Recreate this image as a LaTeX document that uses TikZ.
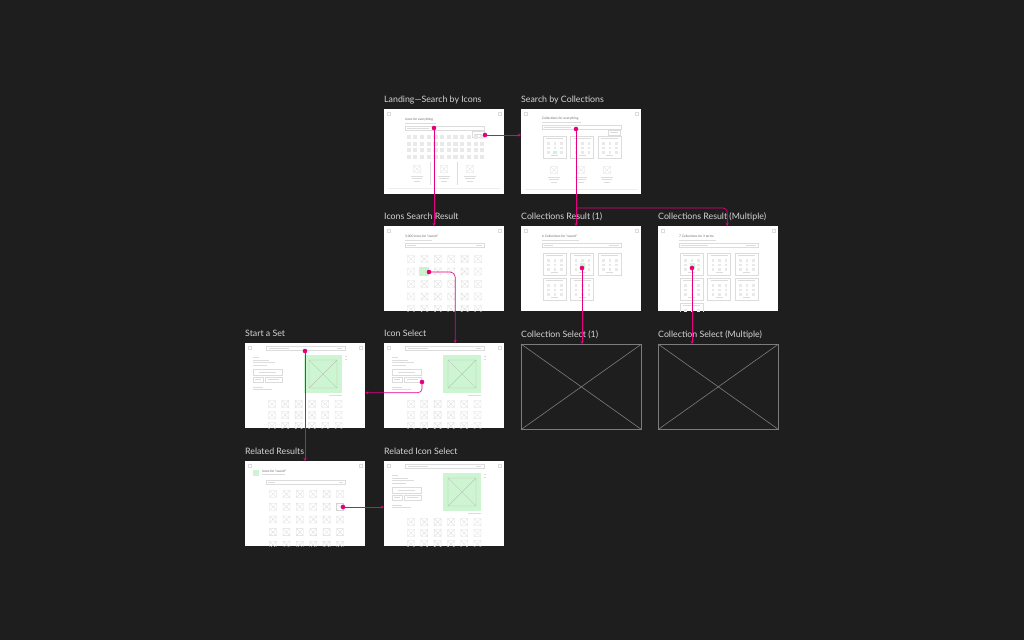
\documentclass[tikz,border=0pt]{standalone}
\usepackage{fontspec}
\setmainfont{Lato}
\usetikzlibrary{positioning,arrows.meta}

\definecolor{canvas}{HTML}{1E1E1E}
\definecolor{lbl}{HTML}{D4D4D4}
\definecolor{hot}{HTML}{E6007E}
\definecolor{rule}{HTML}{DCDCDC}
\definecolor{chip}{HTML}{E9E9E9}
\definecolor{ink}{HTML}{666666}
\definecolor{mint}{HTML}{CDF5D2}
\definecolor{stub}{HTML}{7C7C7C}

\tikzset{
  screen/.style={fill=white, inner sep=0, minimum width=120pt, minimum height=85pt, anchor=north west},
  blank/.style={draw=stub, line width=0.6pt, inner sep=0, minimum width=120pt, minimum height=85pt, anchor=north west},
  caption/.style={text=lbl, font=\fontsize{8.8}{10}\selectfont, anchor=base west, inner sep=0},
  tiny/.style={text=ink, font=\fontsize{3.2}{4}\selectfont, anchor=base west, inner sep=0},
  wire/.style={draw=rule, line width=0.3pt},
  box/.style={draw=gray!55, line width=0.35pt},
  link/.style={draw=hot, line width=0.6pt, -{Stealth[length=3pt,width=3pt]}},
  xbox/.pic={\draw[wire] (-3.5,-3.5) rectangle (3.5,3.5) (-3.5,-3.5) -- (3.5,3.5) (-3.5,3.5) -- (3.5,-3.5);},
  card/.pic={
    \draw[wire] (0,0) rectangle (23,22);
    \draw[wire] (3,2.5) -- (20,2.5) (8,19.5) -- (15,19.5);
    \foreach \c in {0,1,2} \foreach \r in {0,1,2}
      \fill[chip] ({4+\c*6.5},{6+\r*4.5}) rectangle +(2.8,2.8);
  }
}

% corner icons of a screen
\newcommand\chrome{%
  \draw[wire] (3,3) rectangle +(3,3) (114,3) rectangle +(3,3);
}
% icon detail layout (used three times)
\newcommand\detailview{%
  \draw[wire] (21,3) rectangle (100,7.5);
  \draw[wire] (24,5.2) -- (44,5.2) (92,5.2) -- (97,5.2);
  \draw[wire] (8,14) -- (14,14) (8,17) -- (24,17) (8,19.5) -- (30,19.5) (8,22) -- (22,22);
  \draw[wire] (8,26) rectangle (37,32) (8,34) rectangle (18,39) (20,34) rectangle (37,39);
  \draw[wire] (14,29) -- (31,29) (10,36.5) -- (16,36.5) (23,36.5) -- (34,36.5);
  \draw[wire] (8,44) -- (18,44) (8,46.5) -- (27,46.5);
  \fill[mint] (59,12) rectangle (97,50);
  \draw[box] (64,17) rectangle (92,45) (64,17) -- (92,45) (64,45) -- (92,17);
  \draw[wire] (99.5,13) -- (101.5,13) (99.5,16) -- (101.5,16) (84,52.5) -- (97,52.5);
  \foreach \c in {0,...,5} \foreach \r in {0,1,2}
    \pic at ({27+\c*13.3},{61+\r*11}) {xbox};
}

\begin{document}
\begin{tikzpicture}[x=1pt, y=-1pt]
  % background
  \fill[canvas] (0,0) rectangle (1024,640);

  % screens
  \node[screen] (land) at (384,109) {};
  \node[screen] (sbc)  at (521,109) {};
  \node[screen] (isr)  at (384,226) {};
  \node[screen] (cr1)  at (521,226) {};
  \node[screen] (crm)  at (658,226) {};
  \node[screen] (sset) at (245,343) {};
  \node[screen] (isel) at (384,343) {};
  \node[blank]  (cs1)  at (521,344) {};
  \node[blank]  (csm)  at (658,344) {};
  \node[screen] (rres) at (245,461) {};
  \node[screen] (risel) at (384,461) {};

  % empty placeholders
  \draw[draw=stub, line width=0.6pt] (cs1.north west) -- (cs1.south east) (cs1.south west) -- (cs1.north east);
  \draw[draw=stub, line width=0.6pt] (csm.north west) -- (csm.south east) (csm.south west) -- (csm.north east);

  % Landing
  \begin{scope}[shift={(384,109)}]
    \chrome
    \node[tiny] (h1) at (21,11) {Icons for everything};
    \draw[wire] (21,14) -- (52,14);
    \draw[wire] (21,17) rectangle (100,21) (23,19) -- (45,19);
    \draw[wire] (88,22.5) rectangle (100,28) (90,25) -- (98,25);
    \foreach \c in {0,...,11} \foreach \r in {0,...,3}
      \fill[chip] ({22.5+\c*6.7},{26+\r*6.5}) rectangle +(4.2,4.2);
    \fill[mint] (49.3,32.5) rectangle +(4.2,4.2);
    \foreach \x in {33,60,86} {
      \pic at (\x,60) {xbox};
      \draw[wire] (\x-6,67.5) -- (\x+6,67.5) (\x-5,69.5) -- (\x+5,69.5) (\x-3,72.5) -- (\x+3,72.5);
    }
    \draw[wire] (46,53) -- (46,76) (73,53) -- (73,76);
    \draw[wire, draw=rule!50] (4,79) -- (116,79);
    \coordinate (d1) at (50,19);
    \coordinate (d2) at (101,26);
  \end{scope}

  % Search by Collections
  \begin{scope}[shift={(521,109)}]
    \chrome
    \node[tiny] (h2) at (21,10) {Collections for everything};
    \draw[wire] (21,13) -- (60,13);
    \draw[wire] (21,16) rectangle (100,20) (23,18) -- (50,18);
    \draw[wire] (87,21) rectangle (99,26) (89,23.5) -- (97,23.5);
    \foreach \x in {22,49.5,77} \pic at (\x,27) {card};
    \fill[mint] (32,41.5) rectangle +(3.8,3.8);
    \foreach \x in {33,60,86} {
      \pic at (\x,61) {xbox};
      \draw[wire] (\x-6,68.5) -- (\x+6,68.5) (\x-5,70.5) -- (\x+5,70.5) (\x-3,73.5) -- (\x+3,73.5);
    }
    \draw[wire, draw=rule!50] (4,80) -- (116,80);
    \coordinate (d3) at (55,20);
  \end{scope}

  % Icons Search Result
  \begin{scope}[shift={(384,226)}]
    \clip (0,0) rectangle (120,85);
    \chrome
    \node[tiny] (h3) at (21,11) {3,000 Icons for ``sword''};
    \draw[wire] (21,14) -- (48,14);
    \draw[wire] (21,17) rectangle (100,21) (23,19) -- (32,19) (92,19) -- (98,19);
    \fill[mint] (35.2,40.5) rectangle +(9.5,9.5);
    \foreach \c in {0,...,5} \foreach \r in {0,...,4}
      \pic at ({27+\c*13.4},{33+\r*12.5}) {xbox};
    \coordinate (d4) at (45,46);
  \end{scope}

  % Collections Result (1)
  \begin{scope}[shift={(521,226)}]
    \chrome
    \node[tiny] (h4) at (21,11) {6 Collections for ``sword''};
    \draw[wire] (21,14) -- (58,14);
    \draw[wire] (21,17) rectangle (100,21) (23,19) -- (32,19) (88,19) -- (98,19);
    \foreach \x in {22,49.5,77} \pic at (\x,27) {card};
    \foreach \x in {22,49.5} \pic at (\x,52) {card};
    \fill[mint] (59,37) rectangle +(4.5,4.5);
    \coordinate (d5) at (61,42);
  \end{scope}

  % Collections Result (Multiple)
  \begin{scope}[shift={(658,226)}]
    \clip (0,0) rectangle (120,85);
    \chrome
    \node[tiny] (h5) at (21,11) {7 Collections for 3 terms};
    \draw[wire] (21,14) -- (58,14);
    \draw[wire] (21,17) rectangle (100,21) (23,19) -- (50,19) (88,19) -- (98,19);
    \foreach \x in {22,49.5,77} \foreach \y in {27,52} \pic at (\x,\y) {card};
    \pic at (22,77) {card};
    \fill[mint] (32,37) rectangle +(4.5,4.5);
    \coordinate (d6) at (34,42);
  \end{scope}

  % Start a Set
  \begin{scope}[shift={(245,343)}]
    \clip (0,0) rectangle (120,85);
    \chrome
    \detailview
    \coordinate (d7) at (60,8);
  \end{scope}

  % Icon Select
  \begin{scope}[shift={(384,343)}]
    \clip (0,0) rectangle (120,85);
    \chrome
    \detailview
    \coordinate (d8) at (38,39);
  \end{scope}

  % Related Results
  \begin{scope}[shift={(245,461)}]
    \clip (0,0) rectangle (120,85);
    \chrome
    \fill[mint] (8,8.5) rectangle +(6,6);
    \node[tiny] (h6) at (17,11) {Icons for ``sword''};
    \draw[wire] (17,13.5) -- (40,13.5);
    \draw[wire] (21,19) rectangle (100,23) (23,21) -- (30,21) (94,21) -- (98,21);
    \foreach \c in {0,...,5} \foreach \r in {0,...,4}
      \pic at ({28+\c*13.4},{33+\r*12.7}) {xbox};
    \draw[draw=gray!35, line width=0.35pt] (91.5,42.5) rectangle +(7,7);
    \coordinate (d9) at (98,46);
  \end{scope}

  % Related Icon Select
  \begin{scope}[shift={(384,461)}]
    \clip (0,0) rectangle (120,85);
    \chrome
    \detailview
  \end{scope}

  % captions
  \node[caption] (t1) at (384,102.5) {Landing—Search by Icons};
  \node[caption] (t2) at (521,102.5) {Search by Collections};
  \node[caption] (t3) at (384,219.5) {Icons Search Result};
  \node[caption] (t4) at (521,219.5) {Collections Result (1)};
  \node[caption] (t5) at (658,219.5) {Collections Result (Multiple)};
  \node[caption] (t6) at (245,336.5) {Start a Set};
  \node[caption] (t7) at (384,336.5) {Icon Select};
  \node[caption] (t8) at (521,337.5) {Collection Select (1)};
  \node[caption] (t9) at (658,337.5) {Collection Select (Multiple)};
  \node[caption] (t10) at (245,454.5) {Related Results};
  \node[caption] (t11) at (384,454.5) {Related Icon Select};

  % flow
  \coordinate (fork) at (d3 |- 0,208);
  \draw[link] (d1) -- (d1 |- isr.north);
  \draw[link] (d2) -- (d2 -| sbc.west);
  \draw[link] (d3) -- (d3 |- cr1.north);
  \draw[link, rounded corners=4pt] (fork) -| ([xshift=9pt]crm.north);
  \draw[link, rounded corners=5pt] (d4) -| ([xshift=11pt]isel.north);
  \draw[link] (d5) -- (d5 |- cs1.north);
  \draw[link] (d6) -- (d6 |- csm.north);
  \draw[link, rounded corners=4pt] (d8) |- ([yshift=-7pt]sset.east);
  \draw[link] (d7) -- (d7 |- rres.north);
  \draw[link] (d9) -- (d9 -| risel.west);

  % hot spots
  \foreach \d in {d1,d2,d3,d4,d5,d6,d7,d8,d9}
    \fill[hot] (\d) circle (2.3);
\end{tikzpicture}
\end{document}
